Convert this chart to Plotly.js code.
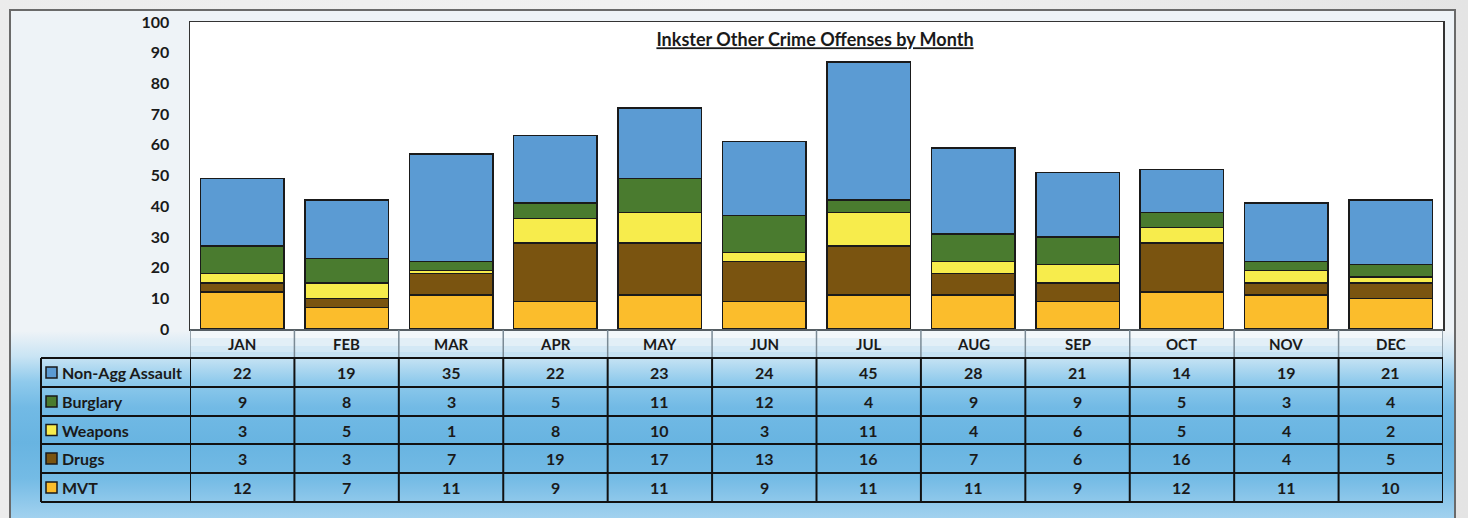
<!DOCTYPE html>
<html><head><meta charset="utf-8">
<script src="https://cdn.plot.ly/plotly-3.0.1.min.js"></script>
<style>
html,body{margin:0;padding:0;background:#fff;}
#wrap{position:relative;width:1468px;height:518px;overflow:hidden;background:linear-gradient(to right,#ececec,#f2f2f2 50%,#e4e4e4);}
#frame{position:absolute;left:9px;top:9px;width:1443px;height:508px;border:2px solid #6a6a6a;border-bottom:none;
background:linear-gradient(to bottom,#eef3f7 0%,#eef3f7 63%,#c9e4f4 68%,#8fcaec 73%,#72bae5 78%,#68b4e1 85%,#74bbe5 92%,#a3d2ef 100%);}
#chart{position:absolute;left:0;top:0;width:1468px;height:518px;}
</style></head>
<body><div id="wrap"><div id="frame"></div><div id="chart"></div></div>
<script>
const months = ['JAN','FEB','MAR','APR','MAY','JUN','JUL','AUG','SEP','OCT','NOV','DEC'];
const nonAggAssault = [22,19,35,22,23,24,45,28,21,14,19,21];
const burglary      = [9,8,3,5,11,12,4,9,9,5,3,4];
const weapons       = [3,5,1,8,10,3,11,4,6,5,4,2];
const drugs         = [3,3,7,19,17,13,16,7,6,16,4,5];
const mvt           = [12,7,11,9,11,9,11,11,9,12,11,10];
const seriesNames   = ['Non-Agg Assault','Burglary','Weapons','Drugs','MVT'];
const seriesColors  = ['#5b9bd3','#4a7b2f','#f7ec4c','#7a5410','#fbbd2c'];
const tableRows     = [nonAggAssault, burglary, weapons, drugs, mvt];

const FONT = 'Lato, "Open Sans", sans-serif';
const L=190, R=1443, T=22, B=329;
const px = x => (x-L)/(R-L);
const py = y => (B-y)/(B-T);

const traces = [];
for (let k = tableRows.length-1; k >= 0; k--) {
  traces.push({type:'bar', x:months, y:tableRows[k], name:seriesNames[k],
    marker:{color:seriesColors[k], line:{color:'#1a1a1a', width:1.5}},
    width:0.8, hoverinfo:'x+y+name'});
}

const shapes = [];
const annotations = [];
const rowTops = [358,387,416,444,473,502];
const bands = [['#f3f8fb',330,338],['#e2eff7',338,346],['#d3e8f5',346,352],['#c6e2f3',352,358]];
bands.forEach(b=>shapes.push({type:'rect',xref:'paper',yref:'paper',x0:0,x1:1,y0:py(b[1]),y1:py(b[2]),fillcolor:b[0],line:{width:0},layer:'below'}));
for (let i=0;i<=months.length;i++){
  shapes.push({type:'line',xref:'x',yref:'paper',x0:i-0.5,x1:i-0.5,y0:py(330),y1:py(358),line:{color:'#7a8a95',width:1.5}});
}
shapes.push({type:'line',xref:'paper',yref:'paper',x0:0,x1:1,y0:py(330),y1:py(330),line:{color:'#7a8a95',width:1}});
for (let i=0;i<=months.length;i++){
  shapes.push({type:'line',xref:'x',yref:'paper',x0:i-0.5,x1:i-0.5,y0:py(358),y1:py(502),line:{color:'#111',width:2}});
}
shapes.push({type:'line',xref:'paper',yref:'paper',x0:px(41),x1:px(41),y0:py(358),y1:py(502),line:{color:'#111',width:2}});
rowTops.forEach(t=>shapes.push({type:'line',xref:'paper',yref:'paper',x0:px(41),x1:1,y0:py(t),y1:py(t),line:{color:'#111',width:2}}));

const ann = (o)=>Object.assign({showarrow:false, xanchor:'center', yanchor:'middle', font:{family:FONT,size:16,color:'#1a1a1a'}}, o);
months.forEach(m=>annotations.push(ann({x:m,xref:'x',y:py(344),yref:'paper',text:'<b>'+m+'</b>',font:{family:FONT,size:15,color:'#1a1a1a'}})));
tableRows.forEach((row,r)=>{
  const cy = (rowTops[r]+rowTops[r+1])/2;
  shapes.push({type:'rect',xref:'paper',yref:'paper',x0:px(46),x1:px(57),y0:py(cy-5.5),y1:py(cy+5.5),fillcolor:seriesColors[r],line:{color:'#1a1a1a',width:1.5}});
  annotations.push(ann({x:px(60),xref:'paper',xanchor:'left',y:py(cy),yref:'paper',text:'<b>'+seriesNames[r]+'</b>'}));
  row.forEach((v,i)=>annotations.push(ann({x:months[i],xref:'x',y:py(cy),yref:'paper',text:'<b>'+v+'</b>'})));
});

const layout = {
  width:1468, height:518,
  margin:{l:L, r:1468-R, t:T, b:518-B, pad:0},
  paper_bgcolor:'rgba(0,0,0,0)', plot_bgcolor:'#ffffff',
  barmode:'stack', showlegend:false,
  title:{text:'<b><u>Inkster Other Crime Offenses by Month</u></b>', xref:'container', x:815/1468, xanchor:'center', yref:'container', y:1-40/518, yanchor:'middle', font:{family:FONT,size:18,color:'#1a1a1a'}},
  xaxis:{type:'category', range:[-0.5,11.5], showticklabels:false, ticks:'', showgrid:false, zeroline:false, showline:true, mirror:true, linecolor:'#333', linewidth:1.5},
  yaxis:{range:[0,100], dtick:10, tick0:0, showgrid:false, zeroline:false, showline:true, mirror:true, linecolor:'#333', linewidth:1.5,
    ticks:'outside', ticklen:16, tickcolor:'rgba(0,0,0,0)', tickfont:{family:FONT,size:16,color:'#1a1a1a'}, tickprefix:'<b>', ticksuffix:'</b>'},
  shapes:shapes, annotations:annotations
};
Plotly.newPlot('chart', traces, layout, {displayModeBar:false, staticPlot:true});
</script></body></html>
